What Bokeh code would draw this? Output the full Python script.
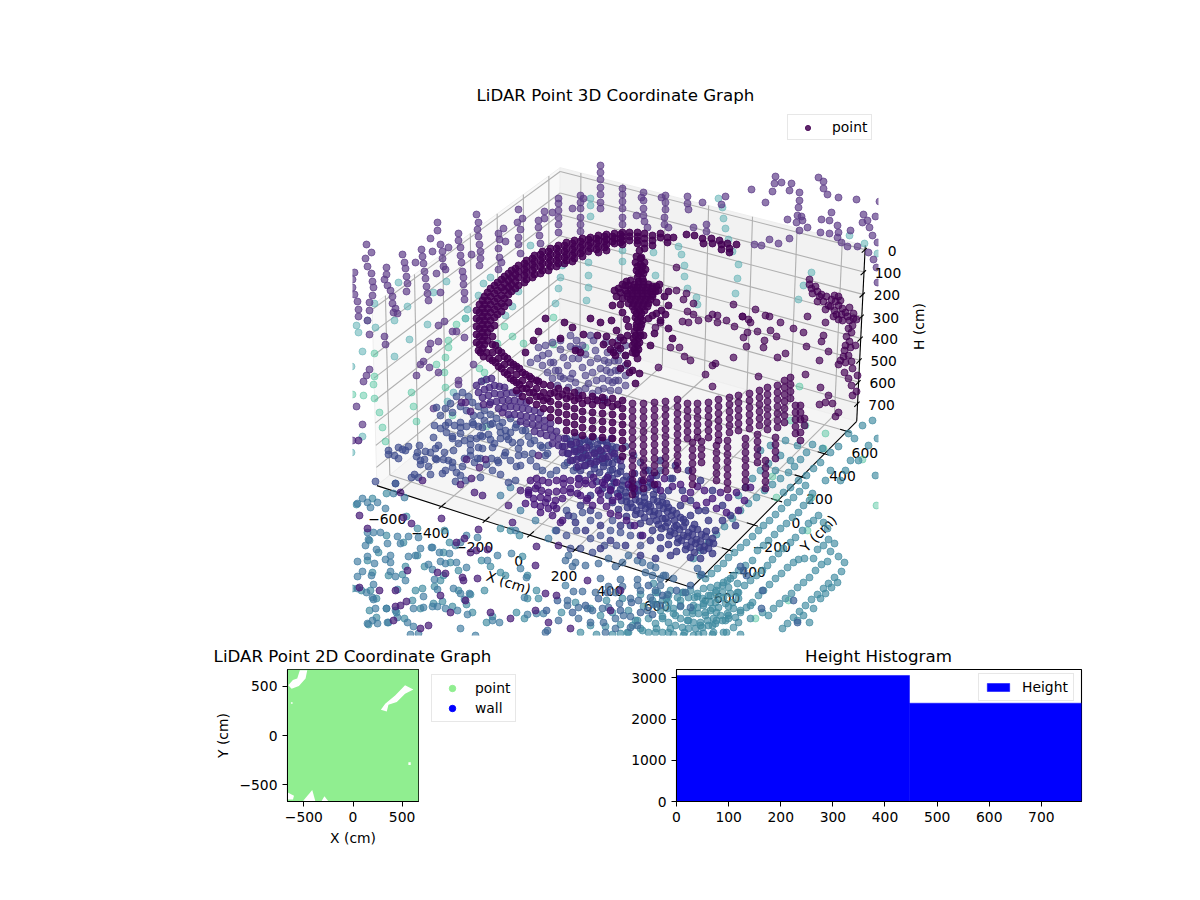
# LiDAR point graphs: 3D view on top, 2D coverage and height histogram below
import numpy as np
from bokeh.core.properties import value
from bokeh.embed import file_html
from bokeh.layouts import column, row
from bokeh.models import FixedTicker, Legend, LegendItem, Range1d
from bokeh.plotting import figure
from bokeh.resources import INLINE

# axis limits and ticks of the 3D box (cm)
x_lim = [-700, 700]
y_lim = [-690, 690]
h_lim = [783, -18]
x_ticks = [-600, -400, -200, 0, 200, 400, 600]
y_ticks = [-600, -400, -200, 0, 200, 400, 600]
h_ticks = [0, 100, 200, 300, 400, 500, 600, 700]

# where the box corners sit in the view plane
corner_world = [(0, 0, 0), (1, 0, 0), (1, 1, 0), (1, 1, 1), (0, 1, 1), (0, 0, 1), (0, 1, 0)]
corner_view = [(378, 487), (690, 587), (857, 420), (865, 246), (560, 168), (371, 303), (558, 335)]

# scan points as seen in the 3D view (view-plane u, v), one list per shade
far_purple = [
    (600,165),(600,172),(600,179),(600,187),(600,194),(600,202),(600,208),(580,195),(580,202),(580,208),(580,217),(580,224),(580,231),
    (583,198),(572,208),(558,198),(558,203),(558,210),(558,217),(558,224),(558,232),(552,212),(544,211),(544,218),(538,220),(538,227),
    (539,235),(540,243),(518,209),(522,218),(517,222),(520,229),(518,237),(518,244),(520,253),(503,228),(498,233),(505,241),(499,239),
    (498,248),(499,257),(501,262),(498,269),(476,214),(478,222),(477,229),(478,236),(479,244),(480,251),(480,258),(479,265),(471,254),
    (458,233),(458,240),(460,247),(460,255),(461,262),(462,271),(463,277),(463,284),(464,292),(464,299),(437,222),(437,230),(430,238),
    (440,244),(448,247),(432,251),(442,251),(442,258),(443,266),(445,269),(436,273),(421,249),(422,256),(415,262),(423,263),(424,271),
    (425,278),(426,286),(427,293),(428,300),(440,292),(402,254),(404,262),(405,268),(406,276),(407,283),(406,291),(386,267),(386,274),
    (384,279),(387,285),(390,290),(392,296),(392,303),(395,308),(393,312),(397,313),(366,244),(371,252),(365,258),(367,266),(371,273),
    (372,281),(373,287),(372,295),(369,302),(369,310),(367,320),(354,272),(352,279),(352,287),(354,294),(357,301),(358,309),(358,316),
    (775,176),(774,183),(781,182),(772,191),(791,183),(789,190),(799,192),(799,200),(798,207),(797,215),(801,216),(802,220),(796,222),
    (787,219),(799,230),(807,227),(818,177),(823,181),(823,188),(827,194),(838,197),(856,199),(879,201),(831,212),(821,219),(829,220),
    (837,225),(838,232),(820,232),(829,233),(850,230),(837,237),(841,242),(847,246),(857,246),(863,214),(867,220),(862,222),(875,216),
    (869,227),(872,235),(877,242),(868,252),(873,259),(876,267),(877,282),(765,202),(751,189),(789,238),(778,243),(769,239),(761,245),
    (754,244),(725,196),(721,204),(706,224),(693,227),(706,231),(687,196),(687,203),(688,209),(622,188),(622,194),(622,201),(622,208),
    (622,217),(622,224),(643,192),(641,197),(643,200),(643,208),(643,215),(644,221),(647,227),(665,195),(661,197),(665,202),(665,209),
    (664,217),(664,224),(668,227),(636,215),(702,202),(369,334),(384,336),(385,344),(430,343),(438,341),(428,349),(420,364),(423,361),
    (429,367),(416,375),(438,372),(369,369),(366,375),(363,381),(356,406),(362,424),(433,408),(352,440),(464,337),(456,331),(452,331),
    (444,321),(438,325),(473,364),(458,380),(458,384),
]
pale_teal = [
    (590,198),(590,216),(590,205),(374,303),(407,306),(394,320),(398,282),(433,292),(446,281),(467,309),(465,318),(478,295),(483,283),
    (490,277),(518,291),(512,306),(505,315),(530,245),(558,288),(560,277),(562,265),(555,303),(588,262),(588,275),(588,287),(586,300),
    (718,198),(722,207),(723,218),(725,228),(728,239),(732,251),(738,264),(737,278),(735,293),(811,272),(803,285),(798,299),(697,304),
    (678,246),(681,254),(684,265),(684,276),(687,288),(696,297),(849,235),(864,243),(877,253),(622,250),(622,261),(653,252),(655,275),
    (351,366),(362,351),(394,356),(409,339),(427,324),(358,332),(356,325),(375,327),(367,320),(447,401),(362,436),(351,452),(453,392),
]
mint = [
    (553,317),(374,353),(374,376),(373,384),(363,395),(352,394),(374,398),(379,412),(382,427),(385,441),(411,392),(413,406),(416,421),
    (436,364),(444,372),(445,387),(445,357),(448,347),(448,340),(456,324),(465,318),(479,368),(484,372),(483,380),(504,326),(512,336),
    (497,343),(523,343),(553,344),(585,347),(486,426),(452,415),(799,386),(825,433),(823,448),(862,459),(876,505),(811,497),(807,530),
    (788,600),(755,618),(805,425),(790,420),(772,476),(776,497),
]
dark_ring = [
    (622,232),(622,236),(622,240),(622,244),(629,232),(629,236),(629,240),(637,232),(637,236),(637,240),(637,243),(644,233),(644,238),
    (644,243),(644,248),(652,235),(652,240),(652,245),(660,233),(660,237),(667,237),(667,242),(673,237),(686,234),(694,235),(702,238),
    (703,243),(711,238),(712,243),(719,240),(721,244),(721,249),(727,243),(729,248),(729,252),(736,244),(614,233),(614,238),(614,243),
    (606,234),(606,239),(606,244),(606,250),(598,235),(598,240),(598,246),(598,252),(590,237),(590,242),(590,248),(582,238),(582,244),
    (582,250),(582,256),(574,240),(574,246),(574,252),(574,258),(566,242),(566,248),(566,254),(566,260),(558,245),(558,251),(558,257),
    (558,263),(550,248),(550,254),(550,260),(550,266),(542,251),(542,257),(542,263),(542,270),(534,255),(534,261),(534,267),(534,274),
    (526,260),(526,266),(526,272),(526,279),(518,265),(518,271),(518,277),(518,285),(511,270),(511,277),(511,284),(511,291),(504,276),
    (504,283),(504,290),(504,298),(504,306),(497,282),(497,290),(497,298),(497,306),(497,314),(490,288),(490,296),(490,304),(490,312),
    (490,320),(490,328),(484,296),(484,304),(484,312),(484,320),(484,328),(484,336),(484,344),(479,304),(479,312),(479,320),(479,328),
    (479,336),(479,344),(480,352),(486,352),(492,336),(492,344),(492,352),(492,360),(498,350),(498,358),(498,366),(504,356),(504,364),
    (504,372),(510,362),(510,370),(510,378),(516,366),(516,374),(516,382),(516,390),(522,372),(522,380),(522,388),(522,396),(529,376),
    (529,384),(529,392),(529,400),(536,380),(536,388),(536,396),(536,404),(543,384),(543,392),(543,400),(543,408),(550,385),(550,393),
    (550,401),(550,409),(550,417),(558,388),(558,396),(558,404),(558,412),(558,420),(566,390),(566,398),(566,406),(566,414),(566,422),
    (566,430),(574,392),(574,400),(574,408),(574,416),(574,424),(574,432),(582,395),(582,403),(582,411),(582,419),(582,427),(582,435),
    (592,396),(592,404),(592,412),(592,420),(592,428),(592,436),(602,397),(602,405),(602,413),(602,421),(602,429),(602,437),(612,398),
    (612,406),(612,414),(612,422),(612,430),(612,438),(622,400),(622,408),(622,416),(622,424),(622,432),(622,440),(622,448),(622,456),
    # the thick left part of the ring
    (620,234),(620,238),(620,242),(612,236),(612,241),(604,236),(604,241),(604,247),(596,238),(596,243),(596,249),(588,239),(588,245),
    (588,251),(580,241),(580,247),(580,253),(572,243),(572,249),(572,255),(572,261),(564,245),(564,251),(564,257),(564,263),(556,248),
    (556,254),(556,260),(556,266),(548,251),(548,257),(548,263),(548,270),(540,254),(540,260),(540,266),(540,273),(532,258),(532,264),
    (532,270),(532,277),(524,263),(524,269),(524,275),(524,282),(515,268),(515,274),(515,281),(515,288),(508,273),(508,280),(508,287),
    (508,294),(508,302),(501,279),(501,287),(501,295),(501,303),(501,311),(494,285),(494,293),(494,301),(494,309),(494,317),(494,325),
    (487,292),(487,300),(487,308),(487,316),(487,324),(487,332),(487,340),(482,300),(482,308),(482,316),(482,324),(482,332),(482,340),
    (482,348),(476,310),(476,318),(476,326),(476,334),(476,342),(478,350),(483,356),(489,358),(495,362),(501,368),(507,374),(513,380),
    (519,384),(495,345),(501,352),(507,358),(513,364),(519,368),(525,374),(531,378),(538,381),(526,388),(533,392),(540,396),(547,398),
    (554,392),(562,394),(570,396),(578,398),(587,400),(597,400),(607,402),(617,404),
]
dark_tree = [
    (639,250),(636,256),(641,257),(635,262),(640,264),(644,262),(636,270),(641,271),(645,269),(637,277),(642,278),(618,288),(622,284),
    (626,281),(630,280),(634,284),(638,284),(643,284),(648,284),(652,286),(656,286),(659,284),(614,290),(620,292),(625,290),(630,289),
    (635,290),(640,290),(645,290),(650,291),(655,291),(658,290),(622,298),(627,296),(632,296),(637,296),(642,296),(647,296),(652,296),
    (628,303),(633,303),(638,303),(643,303),(648,303),(634,310),(639,310),(644,310),(635,317),(640,317),(636,324),(641,324),(634,331),
    (639,331),(633,338),(638,338),(632,345),(637,345),(632,352),(636,352),(637,358),(620,304),(656,302),(664,296),(668,291),(656,313),
    (661,310),(668,305),(660,320),(665,314),(648,318),(652,315),(626,319),(622,312),(616,296),(612,305),(628,326),(620,337),(616,330),
    (643,335),(654,333),(668,328),(672,338),(650,345),(623,340),(617,345),(610,349),(612,342),(606,336),(603,344),(615,355),(627,363),
    (620,368),(629,372),(625,355),(625,285),(628,285),(633,287),(637,287),(642,287),(647,287),(652,288),(627,293),(632,293),(637,293),
    (642,293),(647,293),(652,294),(630,299),(635,299),(640,299),(645,299),(650,299),(632,306),(637,306),(642,306),(647,306),(636,313),
    (641,313),(637,320),(642,320),(636,327),(640,327),(635,335),(640,335),(634,342),(639,342),(634,349),(638,349),(640,258),(637,266),
    (642,266),(638,273),(643,273),(638,281),(643,281),(533,340),(525,352),(575,350),(580,352),(597,335),(613,352),(620,348),(627,335),
    (635,353),(632,370),(635,383),(639,373),(560,338),(538,331),(572,327),(564,322),(545,318),(600,322),(590,318),(611,320),(583,334),
]
dark_right = [
    (809,279),(809,284),(811,288),(812,293),(815,286),(817,291),(819,296),(817,301),(821,294),(823,301),(826,296),(828,305),(825,309),
    (831,299),(835,301),(834,295),(838,296),(840,300),(830,306),(834,310),(838,305),(842,308),(836,314),(841,314),(845,312),(849,307),
    (833,316),(838,319),(847,316),(853,313),(842,320),(849,320),(853,318),(852,325),(856,319),(848,328),(851,332),(846,336),(849,341),
    (845,345),(844,350),(850,347),(855,345),(843,356),(848,355),(840,360),(845,362),(851,361),(838,364),(852,368),(844,372),(848,378),
    (857,375),(851,385),(856,391),(852,395),
    (670,347),(679,347),(684,356),(690,360),(658,367),(705,374),(712,365),(715,363),(712,386),(733,357),(746,346),(743,337),(747,332),
    (757,331),(764,340),(763,347),(776,336),(777,357),(785,353),(793,328),(803,332),(806,346),(819,360),(823,335),(821,341),(828,351),
    (805,374),(758,376),(820,387),(828,395),(819,404),(825,402),(832,403),(838,412),(835,416),(748,319),(742,316),(780,322),(825,322),
    (807,316),(676,267),(676,290),(686,293),(683,299),(693,303),(687,311),(693,314),(733,304),(755,309),(712,314),(717,315),(742,316),
    (765,315),(769,316),(655,327),(660,322),(682,321),(688,322),(698,320),(708,318),(717,322),(726,320),(734,326),(750,322),(770,330),
]
# wall columns of the front half of the ring, (u, [v, ...])
front_columns = [
    (632,[403,410,417,424,431,438,445,452,459,466,473,480,487,494]),(643,[403,410,417,424,431,438,445,452,459,466,473,480,488]),
    (654,[402,409,416,423,430,437,444,451,458,465,472,484]),(665,[401,408,415,422,429,436,443,450,457,464,471]),
    (677,[399,406,413,420,427,434,441,448,455,462,469]),(687,[403,410,417,424,431,438]),(692,[442,449,456,463,470,477,484]),
    (697,[403,410,417,424,431,437]),(701,[441,448,455,462]),(708,[402,409,416,423,430,437]),(716,[445,452,459,466,473,480]),
    (718,[399,406,413,420,427,434,440]),(727,[440,447,454,461,468,475,482,489]),(729,[397,404,411,418,425,432]),
    (738,[395,402,409,416,423,430]),(745,[438,445,452,459,466,473,480,487]),(749,[393,400,407,414,421,428]),(757,[434,441,448,455,462]),
    (759,[390,397,404,411,418,425]),(765,[460,467,474,481,488]),(767,[387,394,401,408,415,422,429]),(775,[437,444,451,458]),
    (777,[385,392,399,406,413,420,427]),(784,[380,387,394,401,408,415,422]),(790,[377,384,391,398]),(795,[405,412,419,426,433]),
    (800,[405,412,419,432,440]),(804,[418,425]),
]
slate_fan = [
    (537,358),(542,365),(547,372),(552,378),(557,385),(548,353),(553,362),(558,370),(563,378),(568,387),(563,357),(567,365),(572,373),
    (575,382),(578,390),(575,348),(578,358),(582,367),(585,375),(588,383),(592,393),(593,340),(595,350),(597,358),(600,368),(602,378),
    (603,388),(605,342),(607,352),(608,362),(610,372),(612,382),(613,350),(614,360),(615,370),(615,380),(618,340),(618,350),(618,360),
    (618,370),(618,380),(618,390),(625,345),(625,355),(625,365),(625,375),(625,385),(610,390),(604,398),(595,399),(585,388),(578,395),
    (570,335),(576,340),(560,340),(552,342),(582,345),(590,335),(570,346),(560,349),(545,345),(538,347),(550,362),(555,370),(570,378),
    (560,376),(572,358),(578,349),(585,354),(590,362),(592,372),(596,380),(598,390),(604,360),(606,370),(608,380),(530,362),(542,355),
]
slate_core = [
    (566,438),(575,436),(584,439),(593,437),(602,440),(611,438),(562,446),(571,444),(580,447),(589,445),(598,448),(607,445),(616,447),
    (567,453),(576,451),(585,454),(594,452),(603,455),(612,452),(572,460),(581,458),(590,461),(599,459),(608,462),(617,459),(576,467),
    (585,465),(594,468),(603,466),(612,469),(621,466),(590,474),(599,472),(608,475),(617,473),(626,476),(634,473),(596,481),(605,479),
    (614,482),(623,480),(632,483),(641,480),(650,482),(602,488),(611,486),(620,489),(629,487),(638,490),(647,487),(656,489),(608,495),
    (617,493),(626,496),(635,494),(644,497),(653,494),(662,496),(612,502),(621,500),(630,503),(639,501),(648,504),(657,501),(666,503),
    (618,509),(627,507),(636,510),(645,508),(654,511),(663,508),(672,510),(626,516),(635,514),(644,517),(653,515),(662,518),(671,515),
    (680,517),(640,523),(649,521),(658,524),(667,522),(676,525),(685,522),(694,524),(652,530),(661,528),(670,531),(679,529),(688,532),
    (697,529),(706,531),(660,537),(669,535),(678,538),(687,536),(696,539),(705,536),(712,538),(668,544),(677,542),(686,545),(695,543),
    (704,546),(713,543),(676,551),(685,549),(694,552),(703,550),(712,553),(690,557),(700,558),
    # the densest middle of the mass
    (570,441),(579,443),(588,441),(597,444),(606,442),(574,449),(583,450),(592,449),(601,451),(610,449),(578,456),(587,458),(596,456),
    (605,458),(614,456),(594,464),(603,462),(612,463),(620,471),(612,478),(622,485),(630,479),(638,484),(625,492),(634,491),(643,492),
    (652,485),(626,501),(635,499),(644,502),(653,499),(662,502),(632,507),(641,505),(650,506),(659,505),(668,507),(640,513),(649,511),
    (658,513),(667,511),(676,513),(656,520),(665,518),(674,520),(683,519),(665,526),(674,527),(683,526),(692,528),(674,533),(683,535),
    (692,534),(701,534),(681,540),(691,541),(700,541),(709,542),(690,547),(699,547),(708,548),
    # its looser edges
    (580,505),(590,510),(600,525),(610,540),(620,525),(630,525),(640,535),(650,540),(660,548),(670,555),(625,545),(640,555),(655,558),
    (600,548),(585,530),(575,522),(568,515),(590,495),(580,470),(672,478),(682,490),(690,500),(698,510),(708,520),(715,530),(722,520),
    (705,510),(690,515),(680,505),(668,490),(656,475),(648,470),(660,460),(675,465),(688,470),(700,480),(712,490),(722,505),(730,515),
    (735,525),
]
slate_blob = [
    (476,385),(481,381),(486,379),(491,378),(478,392),(484,389),(489,387),(494,385),(499,386),(504,387),(482,397),(488,395),(494,393),
    (500,394),(506,393),(512,392),(518,393),(490,402),(496,401),(502,400),(508,400),(514,400),(520,401),(526,402),(498,408),(504,407),
    (510,406),(516,407),(522,408),(528,409),(534,410),(540,412),(508,414),(514,414),(520,415),(526,416),(532,417),(538,418),(544,420),
    (550,423),(520,421),(526,423),(532,424),(538,425),(544,427),(550,429),(556,431),(534,431),(540,433),(546,435),(552,436),(558,438),
    (564,438),(552,443),(558,445),(564,446),(570,444),(576,442),(562,452),(568,453),(574,451),(580,449),(586,447),(570,460),(576,459),
    (582,457),(588,455),(594,453),(600,450),(606,448),(578,466),(584,465),(590,463),(596,461),(602,458),(608,456),(614,453),(620,460),
]
dark_low = [
    (530,480),(536,478),(542,480),(548,482),(556,480),(563,478),(570,480),(535,488),(541,490),(548,492),(556,491),(563,490),(570,492),
    (540,497),(547,498),(555,500),(562,498),(528,494),(534,504),(540,506),(548,508),(556,508),(578,484),(585,480),(592,484),(598,490),
    (604,484),(610,489),(616,482),(580,495),(586,500),(592,505),(600,500),(606,506),(612,500),(618,496),(628,484),(634,488),(642,482),
    (650,478),(657,484),(664,478),(672,486),(680,484),(690,492),(697,486),(704,490),(712,498),(720,492),(728,497),(736,492),(744,500),
    (750,487),(610,513),(618,515),(626,520),(634,525),(642,535),(660,490),(738,510),(726,512),(716,508),(706,502),(696,505),(684,498),
    (540,512),(552,515),(562,520),(537,485),(528,490),(533,498),(545,502),(553,505),(525,503),(563,483),(570,488),(578,478),(585,483),
    (593,477),(602,482),(607,477),(577,493),(587,498),(600,493),(610,490),
]
slate_floor = [
    (394,455),(402,449),(398,447),(408,446),(419,445),(416,456),(424,459),(420,464),(430,452),(435,448),(444,452),(436,459),(445,470),
    (448,460),(452,467),(414,474),(428,466),(442,473),(456,472),(462,466),(464,458),(470,455),(474,462),(480,458),(486,464),(491,458),
    (498,462),(504,455),(510,460),(516,466),(458,443),(464,440),(470,444),(476,438),(482,436),(488,434),(452,438),(446,432),(440,428),
    (434,425),(448,422),(454,425),(460,422),(466,426),(472,422),(478,426),(484,420),(490,424),(496,418),(502,422),(510,418),(516,424),
    (522,430),(528,436),(534,440),(500,432),(506,436),(512,442),(518,448),(524,454),(530,460),(536,466),(542,470),(550,474),(492,470),
    (500,474),(460,406),(466,410),(472,402),(478,406),(484,410),(490,414),(456,396),(450,403),(445,408),(462,392),(468,396),(480,415),
    (473,415),(440,415),(436,407),(452,412),(510,432),(494,443),(482,448),(470,450),(556,470),(564,465),(545,455),(548,445),(540,445),
    (604,400),(612,446),(600,440),(590,442),(581,440),(610,470),(625,446),(633,455),(640,462),(645,470),(652,475),(660,470),(670,478),
    (567,462),(573,470),(579,478),(620,495),(612,520),(598,515),(590,520),(582,512),(573,516),(566,510),(556,530),(566,535),(576,530),
    (590,538),(600,535),(610,530),(620,532),(630,535),(640,545),(616,545),(604,545),(592,552),(580,548),(570,548),
    (445,425),(460,427),(473,424),(482,427),(492,423),(499,426),(505,430),(515,427),(525,430),(433,437),(452,436),(460,433),(470,438),
    (480,435),(490,439),(500,438),(508,439),(520,442),(530,443),(542,447),(388,450),(405,450),(417,452),(425,451),(438,445),(453,450),
    (478,447),(492,447),(505,452),(518,455),(532,453),(547,453),(388,454),(398,458),(420,460),(435,458),(443,459),(452,462),(477,458),
    (497,460),(520,465),(460,475),(480,477),(465,480),(455,481),(508,482),(515,480),(411,477),(418,477),(430,474),(375,481),(395,483),
]
slate_low = [
    (568,555),(575,562),(565,560),(572,566),(585,565),(598,563),(608,558),(615,566),(622,562),(628,555),(637,560),(642,562),(650,565),
    (655,567),(663,575),(660,578),(665,575),(673,578),(645,572),(652,575),(660,585),(620,579),(600,578),(608,586),(622,586),(637,579),
    (595,592),(582,591),(573,591),(615,592),(640,590),(655,590),(667,594),(567,600),(578,607),(587,608),(592,610),(602,608),(608,607),
    (619,603),(630,598),(638,600),(650,597),(567,605),(578,618),(558,620),(590,622),(603,622),(615,618),(623,615),(630,616),(630,627),
    (637,625),(605,632),(615,628),(653,604),(647,610),(660,605),(685,592),(690,607),(680,606),(637,585),(547,630),(545,632),
]
scatter_left = [
    (357,503),(362,498),(367,502),(370,507),(377,502),(385,508),(395,483),(404,497),(393,493),(367,532),(373,532),(380,532),(368,539),
    (365,545),(376,549),(387,543),(397,536),(400,543),(408,536),(418,537),(432,547),(420,548),(408,556),(415,555),(390,555),(385,559),
    (367,556),(357,561),(374,563),(362,571),(357,576),(371,575),(390,562),(390,571),(395,576),(405,580),(397,589),(373,584),(357,588),
    (366,592),(372,597),(373,599),(375,608),(386,608),(395,610),(372,620),(367,623),(377,623),(387,622),(397,617),(407,622),(413,626),
    (410,634),(418,633),(423,596),(413,608),(423,607),(432,606),(437,606),(445,608),(457,610),(467,614),(460,628),(475,635),(492,620),
    (499,622),(527,614),(536,613),(543,613),(524,597),(469,593),(460,593),(464,599),(453,588),(437,589),(434,579),(428,564),(432,569),
    (445,563),(440,561),(466,567),(466,535),(477,537),(455,545),(460,542),(449,553),(439,552),(431,547),(487,560),(497,555),(511,553),
    (520,568),(526,577),(456,562),(565,585),(500,495),(510,487),(520,510),(515,530),(535,520),(548,538),(555,530),
]
teal_points = [
    (356,504),(372,498),(386,493),(406,516),(369,540),(386,535),(367,560),(378,552),(403,542),(417,528),(417,555),(405,566),(424,566),
    (444,530),(449,542),(443,552),(450,562),(443,575),(458,570),(388,575),(402,574),(372,572),(361,590),(370,590),(376,598),(352,588),
    (369,610),(376,617),(386,608),(396,612),(412,600),(420,608),(433,603),(442,601),(452,606),(404,618),(388,622),(368,624),(415,590),
    (422,588),(434,586),(440,580),(458,590),(470,594),(466,604),(484,590),(472,612),(486,622),(492,616),(516,612),(524,618),(527,598),
    (536,590),(500,572),(505,575),(490,566),(522,556),(519,535),(510,530),(500,528),(481,560),(527,575),(538,598),
    (561,612),(575,602),(590,608),(606,600),(622,598),(640,594),(655,592),(670,590),(682,592),(694,597),(705,600),(715,602),
    (600,615),(612,612),(628,610),(643,606),(655,604),(668,602),(680,605),(692,610),(705,615),(716,612),(728,606),(740,610),(750,605),
    (590,625),(605,626),(620,624),(635,620),(648,618),(662,616),(675,615),(688,620),(700,625),(712,625),(725,620),(738,622),(750,618),
    (762,612),(580,632),(596,634),(612,634),(628,632),(642,630),(656,628),(670,628),(684,632),(698,634),(712,634),(726,632),(740,634),
    # rows fanning out right of the Y axis
    (805,485),(799,491),(793,497),(787,502),(781,508),(775,514),(769,520),(763,525),(758,530),(752,536),(746,542),(740,547),(734,552),
    (728,557),(723,563),(717,568),(711,573),(705,578),(812,493),(809,500),(803,505),(798,512),(792,517),(786,523),(780,528),(774,534),
    (768,540),(763,545),(757,550),(752,560),(745,565),(738,570),(733,575),(727,580),(722,585),(716,590),(710,595),(818,515),(813,520),
    (808,523),(802,530),(795,537),(790,542),(783,548),(778,553),(772,559),(767,565),(762,570),(756,575),(750,580),(744,585),(738,592),
    (823,522),(827,528),(834,543),(828,539),(823,545),(817,549),(813,558),(804,558),(798,559),(793,562),(787,567),(781,573),(775,578),
    (769,584),(763,590),(758,595),(752,602),(746,607),(740,612),(830,551),(844,562),(838,556),(827,561),(821,564),(815,570),(809,577),
    (803,582),(797,587),(791,593),(785,598),(779,603),(773,608),(768,615),(841,571),(834,577),(828,583),(823,588),(817,594),(811,599),
    (805,605),(799,611),(793,617),(787,623),(782,628),(837,582),(831,587),(825,593),(820,598),(813,608),(809,622),(803,615),(797,620),
    # around the front corner and along the floor edge
    (812,444),(806,452),(800,459),(794,466),(788,472),(780,478),(772,484),(764,490),(756,497),(748,503),(740,510),(732,518),(724,526),
    (716,534),(708,542),(700,550),(693,558),(820,462),(813,468),(806,475),(798,480),(790,487),(783,492),(838,446),(830,452),(822,448),
    (848,433),(862,425),(854,438),(872,420),(877,438),(858,460),(868,445),(875,475),(850,460),(845,470),(840,480),(830,470),(825,480),
    (775,470),(768,463),(760,470),(752,478),(745,487),(738,495),(760,450),(770,445),(785,440),(797,445),(780,455),(790,460),(700,575),
    (690,590),(697,596),(703,605),(710,610),(693,605),(686,612),(680,600),(673,608),(666,598),(660,610),(652,600),(716,620),(728,615),
    # dense patch below the front corner
    (653,583),(657,592),(662,600),(668,595),(677,597),(683,592),(688,597),(697,593),(703,588),(710,587),(717,585),(723,582),(730,578),
    (702,598),(708,595),(715,592),(722,592),(728,587),(737,583),(697,607),(703,603),(710,602),(717,598),(723,597),(730,593),(737,592),
    (692,613),(698,613),(705,612),(712,608),(718,607),(725,603),(732,602),(738,598),(667,608),(673,613),(680,618),(687,620),(693,622),
    (700,622),(707,620),(713,618),(720,615),(727,613),(733,608),(662,618),(668,622),(675,625),(682,627),(688,628),(695,628),(702,627),
    (708,625),(715,623),(722,620),(728,618),(735,617),(655,623),(648,632),(655,632),(662,632),(668,632),(673,634),(683,635),(693,635),
    (703,633),(713,632),(723,632),(733,627),(637,620),(640,628),(632,625),(627,632),(620,633),
]
blue_front = [
    (746,575),(762,590),(761,608),(793,600),(797,622),(740,566),(743,570),(701,574),(697,568),(690,585),(676,590),(662,595),(648,585),
    (631,602),(620,610),(640,612),(652,614),(607,592),(598,598),(585,605),(572,612),(557,600),(546,610),
]
purple_low = [
    (359,515),(367,528),(400,492),(422,480),(403,517),(411,523),(441,518),(456,542),(464,538),(470,552),(476,550),(407,570),(437,572),
    (445,573),(462,577),(463,580),(395,590),(478,529),(487,549),(477,578),(512,522),(528,492),(560,522),(558,545),(536,546),(535,565),
    (482,495),(474,492),(471,478),(460,484),(508,505),(520,490),(545,593),(556,595),(395,606),(400,605),(406,601),(393,620),(428,625),
    (420,628),(379,590),(359,587),(440,595),(450,612),(465,600),(490,612),(510,618),(535,610),(548,622),(570,628),(587,580),
    (620,590),(610,610),(461,402),(465,402),(470,411),(483,404),(489,404),(502,412),(485,459),(466,459),(538,455),(479,467),(358,440),
]


def box_camera():
    # projective camera of the box, solved from the seven corners
    rows = []
    for (a, b, c), (u, v) in zip(corner_world, corner_view):
        rows.append([a, b, c, 1, 0, 0, 0, 0, -u * a, -u * b, -u * c, -u])
        rows.append([0, 0, 0, 0, a, b, c, 1, -v * a, -v * b, -v * c, -v])
    return np.linalg.svd(np.array(rows, dtype=float))[2][-1].reshape(3, 4)


camera = box_camera()


def project(x, y, h):
    a = (x - x_lim[0]) / (x_lim[1] - x_lim[0])
    b = (y - y_lim[0]) / (y_lim[1] - y_lim[0])
    c = (h - h_lim[0]) / (h_lim[1] - h_lim[0])
    q = camera @ np.array([a, b, c, 1.0])
    return q[0] / q[2], q[1] / q[2]


def segment(start, end):
    a = project(*start)
    b = project(*end)
    return [a[0], b[0]], [a[1], b[1]]


# the frame runs on to u=945 so the H axis labels are not cut; a white band hides points past u=878
p = figure(width=1192, height=640, output_backend="svg", toolbar_location=None,
           x_range=Range1d(352, 945), y_range=Range1d(635, 109),
           min_border_left=352, min_border_right=247, min_border_top=109, min_border_bottom=5,
           title="LiDAR Point 3D Coordinate Graph")
p.axis.visible = False
p.grid.visible = False
p.outline_line_color = None
p.title.align = "left"
p.title.offset = 124
p.title.text_font = "DejaVu Sans"
p.title.text_font_size = "16.67px"
p.title.text_font_style = "normal"
p.title.text_color = "black"

# panes
xa, xb = x_lim
ya, yb = y_lim
ha, hb = h_lim
for pts, colr in [([(xa, ya, ha), (xa, yb, ha), (xa, yb, hb), (xa, ya, hb)], "#f9f9f9"),
                  ([(xa, yb, ha), (xb, yb, ha), (xb, yb, hb), (xa, yb, hb)], "#f2f2f2"),
                  ([(xa, ya, ha), (xb, ya, ha), (xb, yb, ha), (xa, yb, ha)], "#f5f5f5")]:
    corners = [project(*c) for c in pts]
    p.patch([c[0] for c in corners], [c[1] for c in corners], fill_color=colr, line_color="#eeeeee", line_width=1)

# grid on the panes
gx, gy = [], []
for t in x_ticks:
    for s, e in [((t, ya, ha), (t, yb, ha)), ((t, yb, ha), (t, yb, hb))]:
        u, v = segment(s, e)
        gx.append(u)
        gy.append(v)
for t in y_ticks:
    for s, e in [((xa, t, ha), (xb, t, ha)), ((xa, t, ha), (xa, t, hb))]:
        u, v = segment(s, e)
        gx.append(u)
        gy.append(v)
for t in h_ticks:
    for s, e in [((xa, ya, t), (xa, yb, t)), ((xa, yb, t), (xb, yb, t))]:
        u, v = segment(s, e)
        gx.append(u)
        gy.append(v)
p.multi_line(gx, gy, line_color="#b0b0b0", line_width=1.1)

# axis lines and tick marks
ax, ay = [], []
for s, e in [((xa, ya, ha), (xb, ya, ha)), ((xb, ya, ha), (xb, yb, ha)), ((xb, yb, ha), (xb, yb, hb))]:
    u, v = segment(s, e)
    ax.append(u)
    ay.append(v)
for t in x_ticks:
    u, v = segment((t, ya - 18, ha), (t, ya + 30, ha))
    ax.append(u)
    ay.append(v)
for t in y_ticks:
    u, v = segment((xb + 18, t, ha), (xb - 30, t, ha))
    ax.append(u)
    ay.append(v)
for t in h_ticks:
    u, v = segment((xb, yb - 30, t), (xb, yb + 18, t))
    ax.append(u)
    ay.append(v)
p.multi_line(ax, ay, line_color="black", line_width=1.1)


def put_text(u, v, labels, angle=0):
    p.text(u, v, text=labels, angle=angle, angle_units="deg", text_font=value("DejaVu Sans"),
           text_font_size="13.89px", text_color="black", text_align="center", text_baseline="middle")


# the points of the scan cover the X and Y labels, so these come first
x_places = [project(t, ya, ha) for t in x_ticks]
put_text([c[0] - 11 for c in x_places], [c[1] + 26 for c in x_places], [str(t).replace("-", "\u2212") for t in x_ticks])
y_places = [project(xb, t, ha) for t in y_ticks]
put_text([c[0] + 18 for c in y_places], [c[1] + 22 for c in y_places], [str(t).replace("-", "\u2212") for t in y_ticks])
put_text([508], [582], ["X (cm)"], angle=-18)
put_text([818], [533], ["Y (cm)"], angle=46)


def draw(points, colr, alpha):
    u = [q[0] for q in points]
    v = [q[1] for q in points]
    return p.scatter(u, v, size=7, marker="circle", fill_color=colr, fill_alpha=alpha,
                     line_color=colr, line_alpha=alpha, line_width=1)


front_points = [(u, v) for u, vs in front_columns for v in vs]

draw(mint, "#46c09a", 0.45)
draw(pale_teal, "#5fb0b5", 0.55)
draw(far_purple, "#5b3a86", 0.68)
draw(teal_points, "#3f8aa0", 0.65)
draw(scatter_left, "#3f7ba0", 0.65)
draw(blue_front, "#3b5f95", 0.7)
draw(slate_low, "#3f6a98", 0.68)
draw(slate_floor, "#3e4c8e", 0.68)
draw(purple_low, "#4a1f78", 0.72)
draw(slate_fan, "#4a3f88", 0.62)
draw(slate_core, "#3b3a85", 0.78)
draw(slate_blob, "#44257f", 0.75)
draw(dark_low, "#46167a", 0.75)
draw(dark_right, "#440154", 0.68)
draw(front_points, "#440154", 0.72)
dark = draw(dark_ring, "#440154", 0.85)
draw(dark_tree, "#440154", 0.85)

# everything right of the axes box stays white, apart from the H axis texts
p.quad(left=[878], right=[945], bottom=[635], top=[109], fill_color="white", line_color=None)

h_places = [project(xb, yb, t) for t in h_ticks]
put_text([c[0] + (27 if t == 0 else 24) for c, t in zip(h_places, h_ticks)], [c[1] + 1 for c in h_places], [str(t) for t in h_ticks])
put_text([918], [326], ["H (cm)"], angle=90)

leg = Legend(items=[LegendItem(label="point", renderers=[dark])], location=(435, 495),
             label_text_font="DejaVu Sans", label_text_font_size="13.89px", label_text_color="black",
             padding=4, margin=0, glyph_width=31, glyph_height=13, label_height=13, label_standoff=9,
             border_line_color="#d0d0d0", background_fill_alpha=0.8)
p.add_layout(leg)

# strip with the two lower titles; the 2D one is wider than its plot and would be cut there
head_titles = ["LiDAR Point 2D Coordinate Graph", "Height Histogram"]
head_places = [352, 878]
head = figure(width=1192, height=28, output_backend="svg", toolbar_location=None,
              x_range=Range1d(0, 1192), y_range=Range1d(668, 640),
              min_border_left=0, min_border_right=0, min_border_top=0, min_border_bottom=0)
head.axis.visible = False
head.grid.visible = False
head.outline_line_color = None
head.text(head_places, [656, 656], text=head_titles, text_font=value("DejaVu Sans"), text_font_size="16.67px",
          text_color="black", text_align="center", text_baseline="middle")

# 2D coverage
frame_lim = [-667, 667]
cover_x = [-667, 667]
cover_y = [-667, 667]
gap_x = [
    [-541, -466, -483, -551, -625, -659, -612, -568],
    [284, 328, 429, 530, 615, 530, 446, 361, 344],
    [-669, -601, -611, -669],
    [-507, -415, -382],
    [-324, -291, -247],
    [564, 588, 588, 564],
    [-632, -615, -615, -632],
]
gap_y = [
    [659, 659, 575, 500, 473, 507, 561, 575],
    [260, 321, 405, 507, 466, 422, 338, 311, 243],
    [-574, -608, -648, -648],
    [-659, -550, -669],
    [-669, -615, -669],
    [-270, -270, -298, -298],
    [335, 335, 320, 320],
]
tick_2d = [-500, 0, 500]
legend_names = ["point", "wall"]
legend_colors = ["#90ee90", "#0000ff"]

q = figure(width=419, height=183, output_backend="svg", toolbar_location=None,
           x_range=Range1d(*frame_lim), y_range=Range1d(*frame_lim),
           min_border_left=287, min_border_right=1, min_border_top=1, min_border_bottom=50,
           x_axis_label="X (cm)", y_axis_label="Y (cm)")
q.quad(left=[cover_x[0]], right=[cover_x[1]], bottom=[cover_y[0]], top=[cover_y[1]],
       fill_color="#90ee90", line_color=None)
q.patches(gap_x, gap_y, fill_color="white", line_color=None)
q.xaxis.ticker = FixedTicker(ticks=tick_2d)
q.yaxis.ticker = FixedTicker(ticks=tick_2d)

# the 2D legend stands beside the plot, so it gets a small frame of its own;
# its swatches are keyed off the range so only the legend shows them
key = figure(width=209, height=183, output_backend="svg", toolbar_location=None,
             x_range=Range1d(0, 1), y_range=Range1d(0, 1),
             min_border_left=0, min_border_right=0, min_border_top=1, min_border_bottom=50)
key.axis.visible = False
key.grid.visible = False
key.outline_line_color = None
key_items = []
for name, colr in zip(legend_names, legend_colors):
    swatch = key.scatter([5], [5], size=11, marker="circle", color=colr)
    key_items.append(LegendItem(label=name, renderers=[swatch]))
leg2 = Legend(items=key_items, location=(12, 79), label_text_font="DejaVu Sans", label_text_font_size="13.89px",
              label_text_color="black", padding=5, margin=0, spacing=4, glyph_width=30, glyph_height=16,
              label_height=16, label_standoff=8, border_line_color="#d0d0d0")
key.add_layout(leg2)

# height histogram
bin_left = [0, 447]
bin_right = [447, 777]
bin_count = [3055, 2383]
hist_xticks = [0, 100, 200, 300, 400, 500, 600, 700]
hist_yticks = [0, 1000, 2000, 3000]

r = figure(width=473, height=183, output_backend="svg", toolbar_location=None,
           x_range=Range1d(0, 777), y_range=Range1d(0, 3200),
           min_border_left=48, min_border_right=20, min_border_top=1, min_border_bottom=50)
bars = r.quad(left=bin_left, right=bin_right, bottom=[0, 0], top=bin_count, fill_color="#0000ff", line_color="#0000ff", line_width=0.5)
r.xaxis.ticker = FixedTicker(ticks=hist_xticks)
r.yaxis.ticker = FixedTicker(ticks=hist_yticks)
leg3 = Legend(items=[LegendItem(label="Height", renderers=[bars])], location=(302, 100),
              label_text_font="DejaVu Sans", label_text_font_size="13.89px", label_text_color="black",
              padding=5, margin=0, glyph_width=28, glyph_height=10, label_height=14, label_standoff=10,
              border_line_color="#d0d0d0", background_fill_alpha=0.8)
r.add_layout(leg3)

for f in (q, r):
    f.grid.visible = False
    f.outline_line_color = "black"
    f.outline_line_width = 1.1
    f.axis.minor_tick_line_color = None
    f.axis.major_tick_in = 0
    f.axis.major_tick_out = 5
    f.axis.major_tick_line_color = "black"
    f.axis.axis_line_color = "black"
    f.axis.major_label_text_font = "DejaVu Sans"
    f.axis.major_label_text_font_size = "13.89px"
    f.axis.major_label_text_color = "black"
    f.axis.axis_label_text_font = "DejaVu Sans"
    f.axis.axis_label_text_font_size = "13.89px"
    f.axis.axis_label_text_font_style = "normal"
    f.axis.axis_label_text_color = "black"

page = column(p, row(head), row(q, key, r))
open("out.html", "w").write(file_html(page, INLINE))
